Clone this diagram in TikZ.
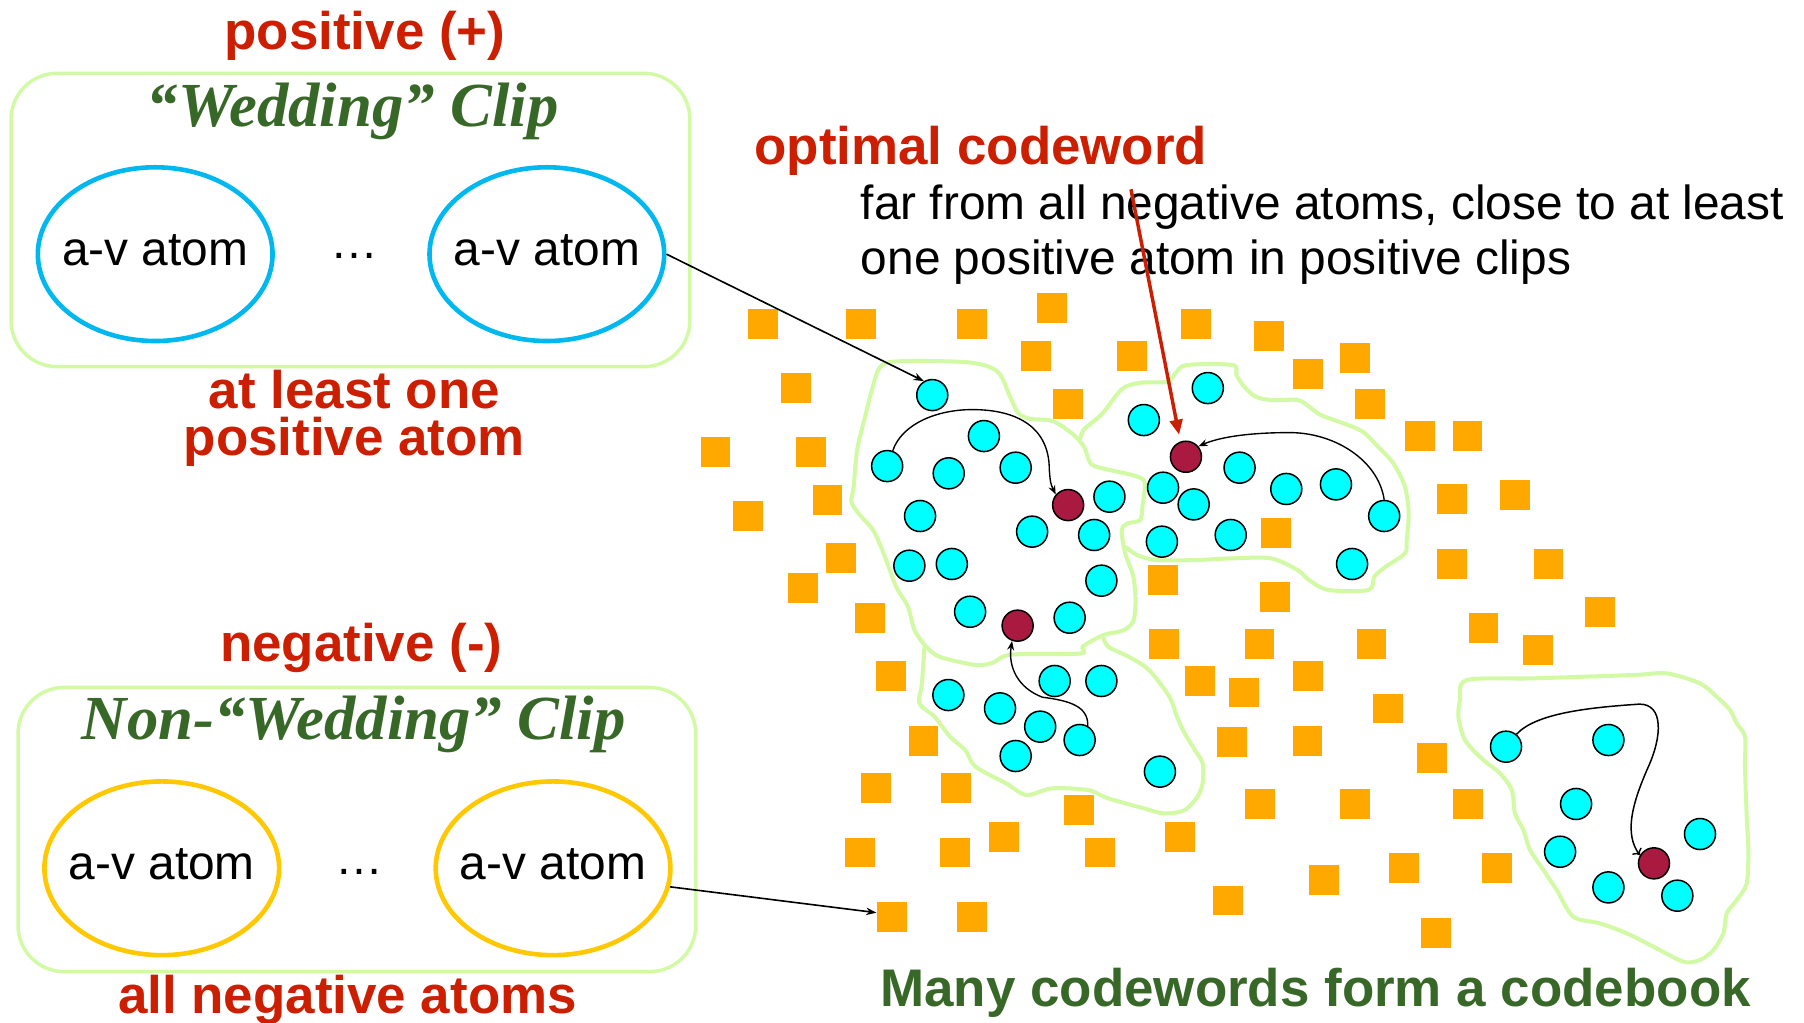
\documentclass[tikz,border=0pt]{standalone}
\usepackage{fontspec}
\setmainfont{Liberation Sans}
\newfontfamily\timesf{Liberation Serif}
\usetikzlibrary{shapes.geometric,arrows.meta}
\definecolor{redtxt}{RGB}{204,30,0}
\definecolor{greentxt}{RGB}{56,104,40}
\definecolor{lightgreen}{RGB}{210,250,165}
\definecolor{atomblue}{RGB}{0,184,240}
\definecolor{atomyellow}{RGB}{255,200,0}
\definecolor{sqorange}{RGB}{255,168,0}
\definecolor{dotcyan}{RGB}{0,255,255}
\definecolor{dotred}{RGB}{170,26,64}
\newcommand\myBody{\fontsize{41.6}{48}\selectfont}
\newcommand\myBold{\fontsize{46}{40.5}\selectfont\bfseries}
\newcommand\myTitle{\fontsize{54.5}{60}\selectfont\timesf\bfseries\itshape}
\begin{document}
\begin{tikzpicture}[x=1pt,y=-1pt,
  sq/.style={rectangle,fill=sqorange,minimum size=26pt,inner sep=0pt},
  cdot/.style={circle,draw=black,line width=1.3pt,fill=dotcyan,minimum size=27pt,inner sep=0pt},
  rdot/.style={cdot,fill=dotred},
  clipbox/.style={draw=lightgreen,line width=3pt,rounded corners=40pt,inner sep=0pt},
  atomP/.style={ellipse,draw=atomblue,line width=4pt,minimum width=204pt,minimum height=151pt,
    inner sep=0pt,font=\myBody,text height=19pt,text depth=0pt},
  atomN/.style={atomP,draw=atomyellow},
  blob/.style={draw=lightgreen,line width=3.5pt,line join=round},
  redlab/.style={text=redtxt,font=\myBold,inner sep=0pt},
  greenlab/.style={text=greentxt,font=\myBold,inner sep=0pt},
  titlelab/.style={text=greentxt,font=\myTitle,inner sep=0pt},
  bodylab/.style={text=black,font=\myBody,inner sep=0pt},
  arr/.style={draw=black,line width=1.4pt,-{Stealth[length=9pt,width=6.5pt]}},
  carr/.style={draw=black,line width=1.2pt,-{Stealth[length=8pt,width=6pt]}},
  darr/.style={draw=black,line width=1.3pt,-{To[length=5pt,width=10pt]}},
  redarr/.style={draw=redtxt,line width=3pt,-{Triangle[length=13pt,width=11pt]}}
]
\fill[white] (0,0) rectangle (1568,889);
\useasboundingbox (0,0) rectangle (1568,889);

% ---------- positive clip ----------
\node[redlab,anchor=base] (posT) at (317.2,43) {positive (+)};
\node[clipbox,minimum width=590pt,minimum height=255pt] (boxP) at (304.6,191.2) {};
\node[titlelab,anchor=base] (wedT) at (306.5,110) {“Wedding” Clip};
\node[atomP] (atomPL) at (134.9,220.9) {\makebox[0pt]{a-v atom}};
\node[atomP] (atomPR) at (475.3,220.9) {\makebox[0pt]{a-v atom}};
\node[bodylab,anchor=base] (dotsP) at (307.7,225) {…};
\node[redlab,align=center,anchor=base] (alo) at (308,395.5) {at least one\\positive atom};

% ---------- negative clip ----------
\node[redlab,anchor=base] (negT) at (314,575) {negative (-)};
\node[clipbox,minimum width=589pt,minimum height=247pt] (boxN) at (310.2,721) {};
\node[titlelab,anchor=base] (nonT) at (307.5,642.6) {Non-“Wedding” Clip};
\node[atomN] (atomNL) at (140.6,754.7) {\makebox[0pt]{a-v atom}};
\node[atomN] (atomNR) at (480.7,754.7) {\makebox[0pt]{a-v atom}};
\node[bodylab,anchor=base] (dotsN) at (312,760.5) {…};
\node[redlab,anchor=base] (allneg) at (302,880.7) {all negative atoms};

% ---------- right texts ----------
\node[redlab,anchor=base] (optT) at (852.5,142.8) {optimal codeword};
\node[bodylab,anchor=base west] (far1) at (748,191.2) {far from all negative atoms, close to at least};
\node[bodylab,anchor=base west] (far2) at (748,239) {one positive atom in positive clips};
\node[greenlab,anchor=base] (manyT) at (1143.5,875) {Many codewords form a codebook};

% ---------- blobs ----------
\draw[blob] plot[smooth cycle,tension=0.5] coordinates {
 (765,319) (782,314) (842,315) (867,323) (878,345) (885,359) (895,364) (915,366)
 (932,377) (942,388) (948,403) (958,407) (988,414) (995,420) (993,440) (991,452)
 (980,455) (975,461) (978,481) (985,501) (987,522) (985,540) (976,548) (959,552)
 (941,562) (939,568) (879,569) (863,576) (848,578) (817,571) (805,562) (795,548)
 (789,527) (779,510) (768,481) (759,461) (746,446) (740,436) (742,423) (745,391)
 (752,362) (757,342)};
\draw[blob] plot[smooth,tension=0.5] coordinates {
 (938.4,382.5) (941.7,373.8) (948.3,368) (958.3,359.3) (971.6,341.9) (978.3,336.1)
 (991.6,332.6) (1014.9,331.8) (1021.5,324.5) (1031.5,317.3) (1071.4,317.3) (1074.7,326)
 (1081.4,336.1) (1091.4,344.8) (1104.7,347.7) (1127.9,347.7) (1137.9,353.5) (1147.9,360.7)
 (1167.8,368) (1184.5,375.2) (1197.8,388.3) (1211.1,402.8) (1221.1,423) (1224.4,446.2)
 (1222.7,469.4) (1221.1,481) (1204.4,492.6) (1194.5,501.2) (1189.5,512.8) (1154.6,512.8)
 (1137.9,504.2) (1127.9,495.5) (1104.7,485.3) (1071.4,485.3) (1038.1,486.8) (1004.9,486.8)
 (988.3,482.4) (978.3,475.2)};
\draw[blob] plot[smooth,tension=0.5] coordinates {
 (803.5,562.1) (801.3,594) (799.1,611.4) (812.4,623) (825.7,640.3) (839,652)
 (847.9,666.4) (874.5,680.9) (892.2,691) (914.4,685.2) (945.5,686.7) (963.2,693.9)
 (994.2,702.6) (1012,707) (1029.7,704.1) (1040.8,692.5) (1045.3,680.9) (1045.3,663.5)
 (1038.6,651.9) (1029.7,637.4) (1023,623) (1016.4,605.6) (998.7,582.4) (981,570.8)
 (963.2,562.1) (958.8,553.4)};
\draw[blob] plot[smooth cycle,tension=0.5] coordinates {
 (1274.8,591.1) (1269,608.5) (1267.6,622.9) (1271.9,640.3) (1277.7,649) (1289.3,660.6)
 (1303.8,672.2) (1314,686.7) (1316.8,707) (1324.1,721.4) (1329.9,738.8) (1341.5,756.2)
 (1353.1,773.6) (1367.5,796.8) (1390.7,802.6) (1413.9,811.2) (1437.1,822.8) (1463.1,835.9)
 (1477.6,834.4) (1489.2,825.7) (1497.9,811.2) (1500.8,793.9) (1509.5,782.3) (1518.2,767.8)
 (1519.6,738.8) (1518.2,709.9) (1516.7,666.4) (1516.7,640.3) (1509.5,628.7) (1503.7,617.1)
 (1492.1,605.6) (1477.6,594) (1448.7,585.3) (1419.7,586.7) (1332.8,589.6)};

% ---------- negative atoms (squares) ----------
\foreach \x/\y [count=\i] in {
 663.5/281.6, 748/281.6, 844.6/281.6, 914.4/268, 1039.2/281.6, 1102.9/291.7,
 900.3/309.4, 983.6/309.4, 691.6/337.5, 927.9/351.4, 1136.6/325, 1177.6/311.4,
 1191/351.4, 621.9/393.1, 705.1/393.1, 1233.9/378.9, 1275.5/378.9, 719.2/434.5,
 650/448.4, 730.8/485.2, 1262/433.7, 1317.1/430.2, 1109/462.9, 1262/490.5,
 1345.9/490.5, 1011.1/504.1, 697.8/510.9, 1391/531.7, 1108.3/518.6, 756.4/537.5,
 1011.5/560, 1094.7/560, 1192.1/560, 1289.4/546.1, 1336.5/565, 774.7/587.8,
 1043.1/591.7, 1081.4/601.9, 1136.6/587.8, 1206.1/615.8, 1244.4/658.6, 802.7/643.7,
 1070.6/645.2, 1136.4/643.7, 761.2/685, 831/685, 937.7/704, 1094.8/699,
 1178/699, 1275.7/699, 872.3/727.2, 1025.4/727.2, 747.3/741, 830.4/741,
 955.7/741, 1220.2/754.8, 1151/765, 1301.5/754.8, 1067/782.7, 775/796.8,
 844.5/796.8, 1248/810.6}
 {\node[sq] (s\i) at (\x,\y) {};}

% ---------- positive atoms (cyan dots) ----------
\foreach \x/\y [count=\i] in {
 810.3/343.4, 771.1/405.1, 824.6/411.4, 855.2/379, 882.8/406.5, 799.7/448.5,
 790.4/491.7, 827.3/490.2, 897.1/462.1, 964.3/431.7, 951/465, 957.3/504.7,
 843.2/531.7, 929.7/536.9, 1049.8/337.3, 994.2/365.1, 1077.4/406.5, 1010.9/423.9,
 1037.5/438.4, 1118/425, 1161.2/421, 1203.1/448.5, 1009.9/470.8, 1069.7/465,
 1175.2/490.2, 824.3/604.1, 869.2/615.7, 916.7/591.9, 957.3/591.9, 904.1/631.6,
 938.4/643.2, 882.8/657.1, 1008.2/670.7, 1309/649, 1398/643.2, 1369.9/698.8,
 1356/740.3, 1398/771.3, 1477.6/724.9, 1457.9/778.5}
 {\node[cdot] (d\i) at (\x,\y) {};}

% ---------- codewords (red dots) ----------
\node[rdot] (r1) at (928.4,439) {};
\node[rdot] (r2) at (1030.8,397) {};
\node[rdot] (r3) at (884.5,543.8) {};
\node[rdot] (r4) at (1437.6,750.4) {};

% ---------- connectors ----------
\draw[arr] (atomPR.east) -- (d1.121);
\draw[arr] (atomNR.-9) -- (s60.165);
\coordinate (redStart) at (983,164.5);
\draw[redarr,shorten >=6pt] (redStart) -- (r2.110);

\draw[carr] (d2.70) .. controls (784,368) and (815,356) .. (845,356)
  .. controls (885,356) and (912,372) .. (912,408)
  .. controls (913,420) .. (r1.140);
\draw[carr] (d22.north) .. controls (1198,400) and (1160,376) .. (1121,376)
  .. controls (1085,376) and (1060,380) .. (r2.40);
\draw[carr] (d31.60) .. controls (946,614) and (930,609) .. (906,606)
  .. controls (885,598) and (876,580) .. (r3.250);
\draw[darr] (d34.50) .. controls (1335,620) and (1380,615) .. (1425,612)
  .. controls (1446,612) and (1445,640) .. (1432,668)
  .. controls (1418,700) and (1412,725) .. (r4.150);
\end{tikzpicture}
\end{document}
